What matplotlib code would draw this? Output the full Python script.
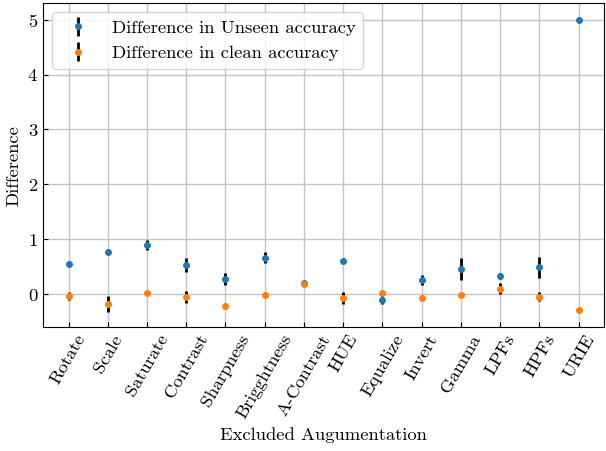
import numpy as np
import matplotlib
matplotlib.use("Agg")
import matplotlib.pyplot as plt

plt.rcParams.update({
    "font.family": "cmr10",
    "mathtext.fontset": "cm",
    "axes.formatter.use_mathtext": True,
    "font.size": 13.4,
    "xtick.direction": "in",
    "ytick.direction": "in",
})

augs = ["Rotate", "Scale", "Saturate", "Contrast", "Sharpness", "Brigghtness",
        "A-Contrast", "HUE", "Equalize", "Invert", "Gamma", "LPFs", "HPFs", "URIE"]
unseen_diff = [0.55, 0.76, 0.90, 0.53, 0.28, 0.66, 0.21, 0.60, -0.10, 0.25, 0.45, 0.33, 0.49, 5.00]
unseen_err = [0.00, 0.00, 0.09, 0.13, 0.11, 0.10, 0.03, 0.00, 0.09, 0.09, 0.20, 0.06, 0.19, 0.00]
clean_diff = [-0.03, -0.18, 0.01, -0.06, -0.21, -0.02, 0.18, -0.07, 0.01, -0.07, -0.01, 0.10, -0.05, -0.29]
clean_err = [0.07, 0.15, 0.00, 0.11, 0.00, 0.00, 0.00, 0.11, 0.00, 0.00, 0.00, 0.10, 0.08, 0.00]

x = np.arange(len(augs))

fig, ax = plt.subplots(figsize=(6.06, 4.51), dpi=100)
fig.subplots_adjust(left=0.071, right=0.997, top=0.993, bottom=0.275)

ax.errorbar(x, unseen_diff, yerr=unseen_err, fmt="o", color="#1f77b4", ecolor="black",
            elinewidth=2, markersize=4, label="Difference in Unseen accuracy", zorder=3)
ax.errorbar(x, clean_diff, yerr=clean_err, fmt="o", color="#ff7f0e", ecolor="black",
            elinewidth=2, markersize=4, label="Difference in clean accuracy", zorder=4)

ax.set_xticks(x)
ax.set_xticklabels(augs, rotation=60)
ax.set_yticks(range(0, 6))
ax.set_ylim(-0.6, 5.3)
ax.set_xlim(-0.65, 13.65)
ax.grid(True, color="#c4c4c4", linewidth=1.0)
ax.set_axisbelow(True)
ax.set_xlabel("Excluded Augumentation")
ax.set_ylabel("Difference")
ax.legend(loc="upper left")

fig.savefig("out.png", dpi=100)
